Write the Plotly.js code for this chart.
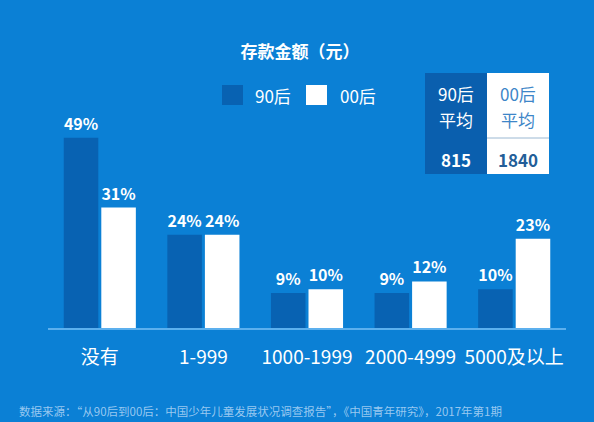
<!DOCTYPE html>
<html>
<head>
<meta charset="utf-8">
<script src="https://cdn.plot.ly/plotly-3.0.1.min.js"></script>
<style>
html,body{margin:0;padding:0;background:#0a7fd3;}
#chart{width:594px;height:422px;}
</style>
</head>
<body>
<div id="chart"></div>
<script>
const categories = ['没有', '1-999', '1000-1999', '2000-4999', '5000及以上'];
const seriesNames = ['90后', '00后'];
const values90 = [49, 24, 9, 9, 10];
const values00 = [31, 24, 10, 12, 23];
const avgHeaderTop = ['90后', '00后'];
const avgHeaderBottom = ['平均', '平均'];
const avgValues = ['815', '1840'];
const chartTitle = '存款金额（元）';
const sourceNote = '数据来源：“从90后到00后：中国少年儿童发展状况调查报告”，《中国青年研究》，2017年第1期';

const BG = '#0b80d5';
const DARK = '#0862b2';
const WHITE = '#ffffff';
const FONT = '"Noto Sans CJK SC", "Noto Sans", sans-serif';

const W = 594, H = 422;
const M = {l: 48, r: 28, t: 95, b: 94};
const pw = W - M.l - M.r, ph = H - M.t - M.b;
const px = x => (x - M.l) / pw;
const py = y => (H - M.b - y) / ph;

const labelFont = {color: WHITE, size: 16, family: FONT, weight: 'bold'};
const traces = [
  {type: 'bar', name: seriesNames[0], x: categories, y: values90,
   marker: {color: DARK}, texttemplate: '%{y}%', textposition: 'outside',
   textfont: labelFont, cliponaxis: false, hoverinfo: 'skip'},
  {type: 'bar', name: seriesNames[1], x: categories, y: values00,
   marker: {color: WHITE}, texttemplate: '%{y}%', textposition: 'outside',
   textfont: labelFont, cliponaxis: false, hoverinfo: 'skip'}
];

const shapes = [
  {type: 'rect', xref: 'paper', yref: 'paper', x0: px(222), x1: px(243), y0: py(105), y1: py(85), fillcolor: DARK, line: {width: 0}},
  {type: 'rect', xref: 'paper', yref: 'paper', x0: px(306), x1: px(327), y0: py(105), y1: py(85), fillcolor: WHITE, line: {width: 0}},
  {type: 'rect', xref: 'paper', yref: 'paper', x0: px(425), x1: px(487), y0: py(174), y1: py(73), fillcolor: '#0a5fae', line: {width: 0}},
  {type: 'rect', xref: 'paper', yref: 'paper', x0: px(487), x1: px(549), y0: py(174), y1: py(73), fillcolor: WHITE, line: {width: 0}},
  {type: 'line', xref: 'paper', yref: 'paper', x0: px(487), x1: px(549), y0: py(138), y1: py(138), line: {color: '#9bb8d2', width: 1}}
];

function ann(x, y, text, font, anchor) {
  return {xref: 'paper', yref: 'paper', x: px(x), y: py(y), xanchor: anchor || 'center', yanchor: 'middle',
          text: text, showarrow: false, font: Object.assign({family: FONT}, font)};
}

const annotations = [
  ann(253, 95, seriesNames[0], {color: WHITE, size: 17}, 'left'),
  ann(338, 95, seriesNames[1], {color: WHITE, size: 17}, 'left'),
  ann(456, 93, avgHeaderTop[0], {color: WHITE, size: 17}),
  ann(456, 119, avgHeaderBottom[0], {color: WHITE, size: 17}),
  ann(518, 93, avgHeaderTop[1], {color: '#3d86c8', size: 17}),
  ann(518, 119, avgHeaderBottom[1], {color: '#3d86c8', size: 17}),
  ann(456, 159, avgValues[0], {color: WHITE, size: 17, weight: 'bold'}),
  ann(518, 159, avgValues[1], {color: '#235e98', size: 17, weight: 'bold'}),
  ann(17, 411, sourceNote, {color: 'rgba(190,220,248,0.8)', size: 11.5}, 'left')
];

const layout = {
  width: W, height: H,
  paper_bgcolor: BG, plot_bgcolor: BG,
  margin: M,
  showlegend: false,
  barmode: 'group', bargap: 0.275, bargroupgap: 0.08,
  title: {text: chartTitle, x: 300 / W, xanchor: 'center', y: 1 - 52 / H, yanchor: 'middle', font: {color: WHITE, size: 17, family: FONT, weight: 'bold'}},
  xaxis: {type: 'category', range: [-0.5, 4.5], showline: true, linecolor: '#5cb0ee', linewidth: 2,
          showgrid: false, zeroline: false, ticks: '', ticklabelstandoff: 11,
          tickfont: {color: WHITE, size: 19, family: FONT}, fixedrange: true},
  yaxis: {range: [0, 60], visible: false, showgrid: false, zeroline: false, fixedrange: true},
  shapes: shapes,
  annotations: annotations,
  font: {family: FONT}
};

Plotly.newPlot('chart', traces, layout, {displayModeBar: false, staticPlot: true});
</script>
</body>
</html>
